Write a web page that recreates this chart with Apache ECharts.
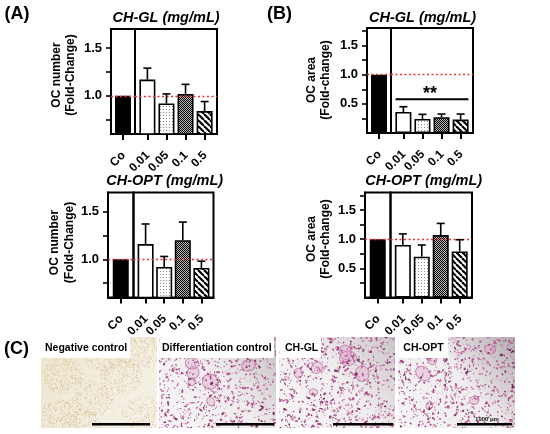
<!DOCTYPE html>
<html><head><meta charset="utf-8">
<script src="https://cdn.jsdelivr.net/npm/echarts@6/dist/echarts.min.js"></script>
<style>html,body{margin:0;padding:0;background:#fff}#c{width:550px;height:434px}</style>
</head><body><div id="c"></div>
<script>
// ---------------- data ----------------
const controlLabel = ['Co'];
const doseLabels = ['0.01', '0.05', '0.1', '0.5'];
const doseIndex = [0, 1, 2, 3];

// OC number (fold change) – CH-GL
const numberGL = [1.00, 1.17, 0.92, 1.02, 0.84];
const numberGLErr = [0, 0.12, 0.10, 0.10, 0.10];
// OC number – CH-OPT
const numberOPT = [1.00, 1.16, 0.92, 1.20, 0.91];
const numberOPTErr = [0, 0.21, 0.11, 0.19, 0.07];
// OC area – CH-GL
const areaGL = [1.00, 0.36, 0.24, 0.27, 0.23];
const areaGLErr = [0, 0.09, 0.08, 0.055, 0.095];
// OC area – CH-OPT
const areaOPT = [1.00, 0.90, 0.70, 1.07, 0.79];
const areaOPTErr = [0, 0.19, 0.20, 0.20, 0.20];

const numberTicks = [0.75, 1.0, 1.25, 1.5];
const numberTickLabels = [1.0, 1.5];
const areaTicks = [0.25, 0.5, 0.75, 1.0, 1.25, 1.5, 1.75];
const areaTickLabels = [0.5, 1.0, 1.5];
const referenceLevel = 1.0;
const significanceLevel = 0.58;
const significanceText = '**';

const imageLabels = ['Negative control', 'Differentiation control', 'CH-GL', 'CH-OPT'];
const scaleBarText = '1000 µm';

// ---------------- styling helpers ----------------
const FONT = '"Liberation Sans", Arial, Helvetica, sans-serif';

function pattern(kind) {
  const c = document.createElement('canvas');
  const g = c.getContext('2d');
  if (kind === 'dots') {
    c.width = 3; c.height = 3;
    g.fillStyle = '#fff'; g.fillRect(0, 0, 3, 3);
    g.fillStyle = '#8c8c8c'; g.fillRect(1, 1, 1, 1);
  } else if (kind === 'check') {
    c.width = 2; c.height = 2;
    g.fillStyle = '#b8b8b8'; g.fillRect(0, 0, 2, 2);
    g.fillStyle = '#000'; g.fillRect(0, 0, 1, 1); g.fillRect(1, 1, 1, 1);
  } else {
    c.width = 6; c.height = 6;
    g.fillStyle = '#fff'; g.fillRect(0, 0, 6, 6);
    g.strokeStyle = '#000'; g.lineWidth = 2.1;
    for (const k of [-6, 0, 6]) { g.beginPath(); g.moveTo(k, 0); g.lineTo(k + 6, 6); g.stroke(); }
  }
  return { image: c, repeat: 'repeat' };
}
const doseFills = ['#ffffff', pattern('dots'), pattern('check'), pattern('stripe')];

const panels = [
  { title: 'CH-GL (mg/mL)', vals: numberGL, errs: numberGLErr, yMin: 0.6, yMax: 1.7, ticks: numberTicks, labels: numberTickLabels,
    co: { left: 111, top: 29, width: 24, height: 105 }, dose: { left: 135, top: 29, width: 82, height: 105 },
    name: 'OC number\n(Fold-Change)', nameX: 63.5, nameY: 75, titleX: 166, titleY: 17.5, sig: false },
  { title: 'CH-GL (mg/mL)', vals: areaGL, errs: areaGLErr, yMin: 0, yMax: 1.8, ticks: areaTicks, labels: areaTickLabels,
    co: { left: 367, top: 28, width: 24, height: 105 }, dose: { left: 391, top: 28, width: 82, height: 105 },
    name: 'OC area\n(Fold-change)', nameX: 318.5, nameY: 80, titleX: 422.5, titleY: 17.5, sig: true },
  { title: 'CH-OPT (mg/mL)', vals: numberOPT, errs: numberOPTErr, yMin: 0.6, yMax: 1.7, ticks: numberTicks, labels: numberTickLabels,
    co: { left: 108, top: 192.5, width: 25.5, height: 105 }, dose: { left: 133.5, top: 192.5, width: 80, height: 105 },
    name: 'OC number\n(Fold-Change)', nameX: 62, nameY: 242.5, titleX: 164.7, titleY: 181, sig: false },
  { title: 'CH-OPT (mg/mL)', vals: areaOPT, errs: areaOPTErr, yMin: 0, yMax: 1.8, ticks: areaTicks, labels: areaTickLabels,
    co: { left: 365, top: 192.5, width: 25.5, height: 105 }, dose: { left: 390.5, top: 192.5, width: 81.5, height: 105 },
    name: 'OC area\n(Fold-change)', nameX: 318.5, nameY: 239, titleX: 423.7, titleY: 181, sig: false }
];

const grids = [], xAxes = [], yAxes = [], series = [], graphics = [];
const axisLabelStyle = { color: '#000', fontFamily: FONT, fontWeight: 'bold', fontSize: 13 };
const refLine = {
  silent: true, symbol: 'none', label: { show: false },
  lineStyle: { color: '#e8322c', type: [2, 2.5], width: 1.4 },
  data: [{ yAxis: referenceLevel }]
};

function errorSeries(idx, pts) {
  return {
    type: 'custom', xAxisIndex: idx, yAxisIndex: idx, z: 5, silent: true,
    data: pts,
    renderItem(params, api) {
      const x = api.value(0);
      const p0 = api.coord([x, api.value(1)]);
      const p1 = api.coord([x, api.value(2)]);
      const st = { stroke: '#000', lineWidth: 1.6 };
      return { type: 'group', children: [
        { type: 'line', shape: { x1: p0[0], y1: p0[1], x2: p1[0], y2: p1[1] }, style: st },
        { type: 'line', shape: { x1: p1[0] - 4, y1: p1[1], x2: p1[0] + 4, y2: p1[1] }, style: st }
      ] };
    }
  };
}

// rotated (45°) category labels under each axis, placed through the axis scale
function labelSeries(idx, names, yMin) {
  return {
    type: 'custom', xAxisIndex: idx, yAxisIndex: idx, z: 6, silent: true, clip: false,
    data: names.map((n, i) => [i, yMin]),
    renderItem(params, api) {
      const pt = api.coord([api.value(0), api.value(1)]);
      return { type: 'text', x: pt[0] + 0.5, y: pt[1] + 19.5, rotation: Math.PI / 4,
        style: { text: names[params.dataIndex], align: 'right', verticalAlign: 'middle',
          font: 'bold 12px ' + FONT, fill: '#000' } };
    }
  };
}

panels.forEach((p, k) => {
  const ci = k * 2, di = k * 2 + 1;
  const gridStyle = { show: true, borderColor: '#000', borderWidth: 2, backgroundColor: 'transparent', containLabel: false };
  grids.push(Object.assign({}, gridStyle, p.co));
  grids.push(Object.assign({}, gridStyle, p.dose));

  const xCommon = {
    axisLine: { show: true, lineStyle: { color: '#000', width: 2 } },
    splitLine: { show: false }
  };
  xAxes.push(Object.assign({}, xCommon, {
    gridIndex: ci, type: 'category', data: controlLabel,
    axisTick: { show: true, alignWithLabel: true, length: 6, lineStyle: { color: '#000', width: 2 } },
    axisLabel: { show: false }
  }));
  xAxes.push(Object.assign({}, xCommon, {
    gridIndex: di, type: 'value', min: -0.65, max: 3.65,
    axisTick: { show: true, length: 6, customValues: doseIndex, lineStyle: { color: '#000', width: 2 } },
    axisLabel: { show: false }
  }));

  yAxes.push({
    gridIndex: ci, type: 'value', min: p.yMin, max: p.yMax,
    axisLine: { show: true, lineStyle: { color: '#000', width: 2 } },
    axisTick: { show: true, length: 5, customValues: p.ticks, lineStyle: { color: '#000', width: 1.6 } },
    axisLabel: Object.assign({ margin: 9, customValues: p.labels, formatter: v => v.toFixed(1) }, axisLabelStyle),
    splitLine: { show: false }
  });
  yAxes.push({ gridIndex: di, type: 'value', min: p.yMin, max: p.yMax, show: false, splitLine: { show: false } });

  series.push({
    type: 'bar', xAxisIndex: ci, yAxisIndex: ci, barWidth: 16, z: 2,
    data: [p.vals[0]],
    itemStyle: { color: '#000', borderColor: '#000', borderWidth: 1.5 },
    markLine: refLine, silent: true
  });
  series.push({
    type: 'bar', xAxisIndex: di, yAxisIndex: di, barWidth: 16, z: 2, silent: true,
    data: doseIndex.map(i => ({ value: [i, p.vals[i + 1]],
      itemStyle: { color: doseFills[i], borderColor: '#000', borderWidth: 1.6 } })),
    markLine: refLine
  });
  series.push(errorSeries(di, doseIndex.map(i => [i, p.vals[i + 1], p.vals[i + 1] + p.errs[i + 1]])));
  series.push(labelSeries(ci, controlLabel, p.yMin));
  series.push(labelSeries(di, doseLabels, p.yMin));

  if (p.sig) {
    series.push({
      type: 'custom', xAxisIndex: di, yAxisIndex: di, z: 6, silent: true,
      data: [[doseIndex[0], doseIndex[doseIndex.length - 1], significanceLevel]],
      renderItem(params, api) {
        const a = api.coord([api.value(0) - 0.41, api.value(2)]);
        const b = api.coord([api.value(1) + 0.41, api.value(2)]);
        return { type: 'group', children: [
          { type: 'line', shape: { x1: a[0], y1: a[1], x2: b[0], y2: b[1] }, style: { stroke: '#000', lineWidth: 2 } },
          { type: 'text', style: { text: significanceText, x: (a[0] + b[0]) / 2 - 2, y: a[1] + 4, align: 'center', verticalAlign: 'bottom',
            font: 'bold 18px ' + FONT, fill: '#000' } }
        ] };
      }
    });
  }

  graphics.push({ type: 'text', x: p.titleX, y: p.titleY, silent: true,
    style: { text: p.title, align: 'center', verticalAlign: 'middle', font: 'italic bold 14.5px ' + FONT, fill: '#000' } });
  graphics.push({ type: 'text', x: p.nameX, y: p.nameY, rotation: Math.PI / 2, silent: true,
    style: { text: p.name, align: 'center', verticalAlign: 'middle', font: 'bold 12px ' + FONT, lineHeight: 14.5, fill: '#000' } });
});

// panel letters
[['(A)', 4.5, 14], ['(B)', 267, 14], ['(C)', 4, 349.5]].forEach(([t, x, y]) => {
  graphics.push({ type: 'text', x, y, silent: true,
    style: { text: t, align: 'left', verticalAlign: 'middle', font: 'bold 18px ' + FONT, fill: '#000' } });
});

// ---------------- micrograph illustrations ----------------
function micrograph(w, h, kind, seed, dark, cells) {
  const c = document.createElement('canvas');
  c.width = Math.round(w * 2); c.height = Math.round(h * 2);
  const g = c.getContext('2d'); g.scale(2, 2);
  let s = seed >>> 0;
  const r = () => { s = (Math.imul(s, 1664525) + 1013904223) >>> 0; return s / 4294967296; };
  if (kind === 'neg') {
    const gr = g.createLinearGradient(0, 0, w, h);
    gr.addColorStop(0, '#ede5cd'); gr.addColorStop(0.6, '#f3eee0'); gr.addColorStop(1, '#f6f3ea');
    g.fillStyle = gr; g.fillRect(0, 0, w, h);
    const centers = [[22, 38], [52, 62], [80, 40], [102, 76], [18, 80], [62, 16], [98, 14], [40, 90]];
    for (const [cx, cy] of centers) {
      for (let i = 0; i < 300; i++) {
        const a = r() * 6.283, d = Math.sqrt(r()) * 21;
        g.fillStyle = 'rgba(198,160,92,' + (0.2 + r() * 0.35).toFixed(2) + ')';
        g.fillRect(cx + Math.cos(a) * d, cy + Math.sin(a) * d * 0.85, 0.9, 0.9);
      }
    }
    for (let i = 0; i < 900; i++) {
      g.fillStyle = 'rgba(205,175,115,0.25)';
      g.fillRect(r() * w, r() * h, 0.7, 0.7);
    }
  } else {
    const gr = g.createLinearGradient(0, h, w, 0);
    gr.addColorStop(0, '#f7f6f6'); gr.addColorStop(0.55, '#efedee'); gr.addColorStop(1, dark);
    g.fillStyle = gr; g.fillRect(0, 0, w, h);
    for (let i = 0; i < cells; i++) {
      const x = 10 + r() * (w - 20), y = 10 + r() * (h - 20), rr = 3.5 + r() * 5;
      g.globalAlpha = 0.7;
      g.fillStyle = 'rgba(222,165,200,0.55)';
      g.strokeStyle = 'rgba(180,80,145,0.8)'; g.lineWidth = 1;
      g.beginPath(); g.ellipse(x, y, rr, rr * (0.75 + r() * 0.3), r() * 3.14, 0, 6.283); g.fill(); g.stroke();
    }
    const cols = ['#952a6e', '#b03f86', '#c25e9d', '#74245a', '#d080b2'];
    for (let i = 0; i < 850; i++) {
      const x = r() * w, y = r() * h, rr = 0.35 + r() * 0.9;
      g.globalAlpha = 0.6 + r() * 0.4;
      g.fillStyle = cols[Math.floor(r() * cols.length)];
      g.beginPath(); g.ellipse(x, y, rr * (0.7 + r() * 1.1), rr * (0.5 + r() * 0.6), r() * 3.14, 0, 6.283); g.fill();
    }
    g.globalAlpha = 1;
  }
  return c;
}

const imgBoxes = [
  { x: 40.7, w: 116, kind: 'neg', seed: 11, dark: '#f0ecdf', cells: 0, labelW: 89.5, textX: 45 },
  { x: 159.3, w: 116.7, kind: 'pink', seed: 23, dark: '#c4bdc0', cells: 6, labelW: 114.7, textX: 162 },
  { x: 279.3, w: 115.7, kind: 'pink', seed: 37, dark: '#cbc5c8', cells: 6, labelW: 41.7, textX: 285 },
  { x: 398.3, w: 116.7, kind: 'pink', seed: 53, dark: '#b3abae', cells: 6, labelW: 50, textX: 403.3 }
];
const scaleBars = [[92, 58], [216, 58], [333, 60], [457, 55]];
const imgTop = 337, imgH = 91.3;
imgBoxes.forEach((b, i) => {
  graphics.push({ type: 'image', silent: true,
    style: { image: micrograph(b.w, imgH, b.kind, b.seed, b.dark, b.cells), x: b.x, y: imgTop, width: b.w, height: imgH } });
  graphics.push({ type: 'rect', silent: true, shape: { x: b.x, y: imgTop - 1, width: b.labelW, height: 22 }, style: { fill: '#fff' } });
  graphics.push({ type: 'text', x: b.textX, y: 347.8, silent: true,
    style: { text: imageLabels[i], align: 'left', verticalAlign: 'middle', font: 'bold 10.5px ' + FONT, fill: '#000' } });
  graphics.push({ type: 'rect', silent: true, shape: { x: scaleBars[i][0], y: 423, width: scaleBars[i][1], height: 2.6 }, style: { fill: '#000' } });
});
graphics.push({ type: 'text', x: 487, y: 419, silent: true,
  style: { text: scaleBarText, align: 'center', verticalAlign: 'middle', font: 'bold 6px ' + FONT, fill: '#222' } });

const chart = echarts.init(document.getElementById('c'));
chart.setOption({
  animation: false,
  backgroundColor: '#fff',
  grid: grids, xAxis: xAxes, yAxis: yAxes, series: series,
  graphic: graphics
});
</script>
</body></html>
